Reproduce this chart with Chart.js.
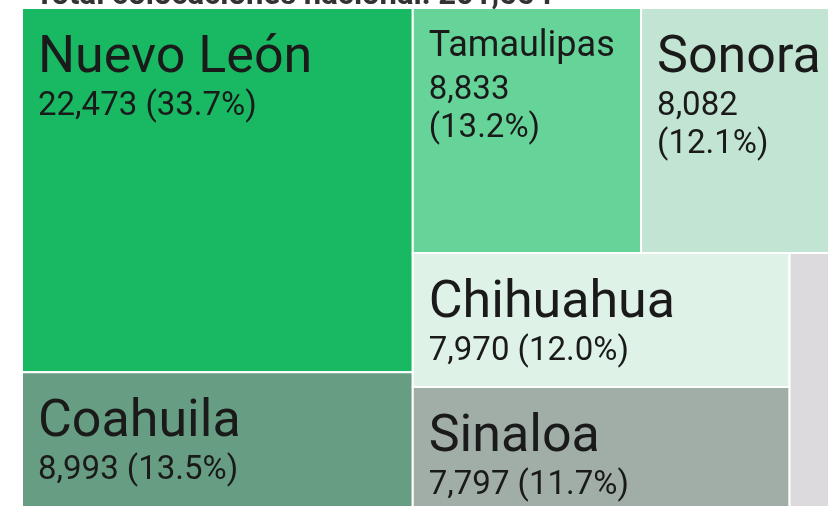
<!DOCTYPE html>
<html>
<head>
<meta charset="utf-8">
<script src="https://cdn.jsdelivr.net/npm/chart.js"></script>
<style>
    html, body { margin: 0; padding: 0; background: #fff; overflow: hidden; }
    #wrap { position: absolute; left: 0; top: -40px; width: 870px; height: 560px; }
</style>
</head>
<body>
<div id="wrap"><canvas id="treemapChart"></canvas></div>
<script>
//============================== DATA ===========================
const titleText = "Total colocaciones nacional: 201,554";
const states = ["Nuevo León", "Coahuila", "Tamaulipas", "Sonora", "Chihuahua", "Sinaloa", "Otros"];
const placements = [22473, 8993, 8833, 8082, 7970, 7797, 2529];
const colors = ["#19b963", "#679e83", "#66d399", "#c2e4d2", "#dff2e8", "#a0aea7", "#dcdadc"];

//============================== LAYOUT ===========================
const GOLDEN = 0.5 * (1 + Math.sqrt(5));

function worst(row, side) {
    let sum = 0, max = 0, min = Infinity;
    row.forEach(it => { sum += it.area; max = Math.max(max, it.area); min = Math.min(min, it.area); });
    const sq = sum * sum;
    const f = side * side * GOLDEN;
    return sq ? Math.max(f * max / sq, sq / (f * min)) : Infinity;
}

function placeRow(row, rect, out) {
    const sum = row.reduce((a, it) => a + it.area, 0);
    if (rect.w >= rect.h) {
        // column on the left
        const cw = sum / rect.h;
        let yy = rect.y;
        row.forEach(it => { const h = it.area / cw; out.push({ i: it.i, x: rect.x, y: yy, w: cw, h: h }); yy += h; });
        return { x: rect.x + cw, y: rect.y, w: rect.w - cw, h: rect.h };
    } else {
        // row on the top
        const rh = sum / rect.w;
        let xx = rect.x;
        row.forEach(it => { const w = it.area / rh; out.push({ i: it.i, x: xx, y: rect.y, w: w, h: rh }); xx += w; });
        return { x: rect.x, y: rect.y + rh, w: rect.w, h: rect.h - rh };
    }
}

function squarify(items, rect) {
    const out = [];
    let row = [], best = Infinity, k = 0;
    while (k < items.length) {
        const side = Math.min(rect.w, rect.h);
        const cand = row.concat([items[k]]);
        const score = worst(cand, side);
        if (!row.length || score <= best) {
            row = cand; best = score; k++;
        } else {
            rect = placeRow(row, rect, out);
            row = []; best = Infinity;
        }
    }
    if (row.length) placeRow(row, rect, out);
    return out;
}

//============================== PLUGIN ===========================
const treemapPlugin = {
    id: "treemap",
    afterDatasetsDraw(chart) {
        const ctx = chart.ctx;
        const area = chart.chartArea;
        const xs = chart.scales.x, ys = chart.scales.y;
        const W = area.width, H = area.height;
        const total = placements.reduce((a, b) => a + b, 0);
        const items = placements
            .map((v, i) => ({ i: i, area: v / total * W * H }))
            .sort((a, b) => b.area - a.area);
        const cells = squarify(items, { x: 0, y: 0, w: W, h: H });

        ctx.save();
        cells.forEach(c => {
            const x0 = xs.getPixelForValue(c.x / W);
            const x1 = xs.getPixelForValue((c.x + c.w) / W);
            const y0 = ys.getPixelForValue(c.y / H);
            const y1 = ys.getPixelForValue((c.y + c.h) / H);
            ctx.fillStyle = colors[c.i];
            ctx.fillRect(x0, y0, x1 - x0, y1 - y0);
            ctx.strokeStyle = "#ffffff";
            ctx.lineWidth = 2;
            ctx.strokeRect(x0, y0, x1 - x0, y1 - y0);

            const w = x1 - x0;
            if (w < 100 || (y1 - y0) < 60) return;

            // name
            let nameSize = 52;
            ctx.font = "400 52px Roboto";
            const nw = ctx.measureText(states[c.i]).width;
            if (nw > w - 40) nameSize = Math.floor(52 * (w - 40) / nw);
            ctx.font = "400 " + nameSize + "px Roboto";
            ctx.fillStyle = "#1a1a1a";
            ctx.textBaseline = "alphabetic";
            ctx.textAlign = "left";
            const tx = x0 + 16;
            let by = y0 + 12 + nameSize;
            ctx.fillText(states[c.i], tx, by);

            // value + percent
            const v = placements[c.i].toLocaleString("en-US");
            const p = "(" + (placements[c.i] / total * 100).toFixed(1) + "%)";
            ctx.font = "400 33px Roboto";
            const one = v + " " + p;
            by += 43;
            if (ctx.measureText(one).width > w - 32) {
                ctx.fillText(v, tx, by);
                ctx.fillText(p, tx, by + 38);
            } else {
                ctx.fillText(one, tx, by);
            }
        });

        // title
        ctx.font = "bold 31px Roboto";
        ctx.fillStyle = "#333333";
        ctx.textBaseline = "alphabetic";
        ctx.fillText(titleText, 35, area.top - 4);
        ctx.restore();
    }
};

const treemap_config = {
    type: "scatter",
    data: {
        datasets: [{ label: "Colocaciones", data: [] }],
    },
    options: {
        responsive: true,
        maintainAspectRatio: false,
        animation: false,
        layout: { padding: { left: 22, top: 48, right: 20, bottom: 2 } },
        plugins: { legend: { display: false }, tooltip: { enabled: false }, title: { display: false } },
        scales: {
            x: { type: "linear", min: 0, max: 1, display: false },
            y: { type: "linear", min: 0, max: 1, reverse: true, display: false },
        },
    },
    plugins: [treemapPlugin],
};

const treemapChart = new Chart(document.getElementById("treemapChart").getContext("2d"), treemap_config);
</script>
</body>
</html>
